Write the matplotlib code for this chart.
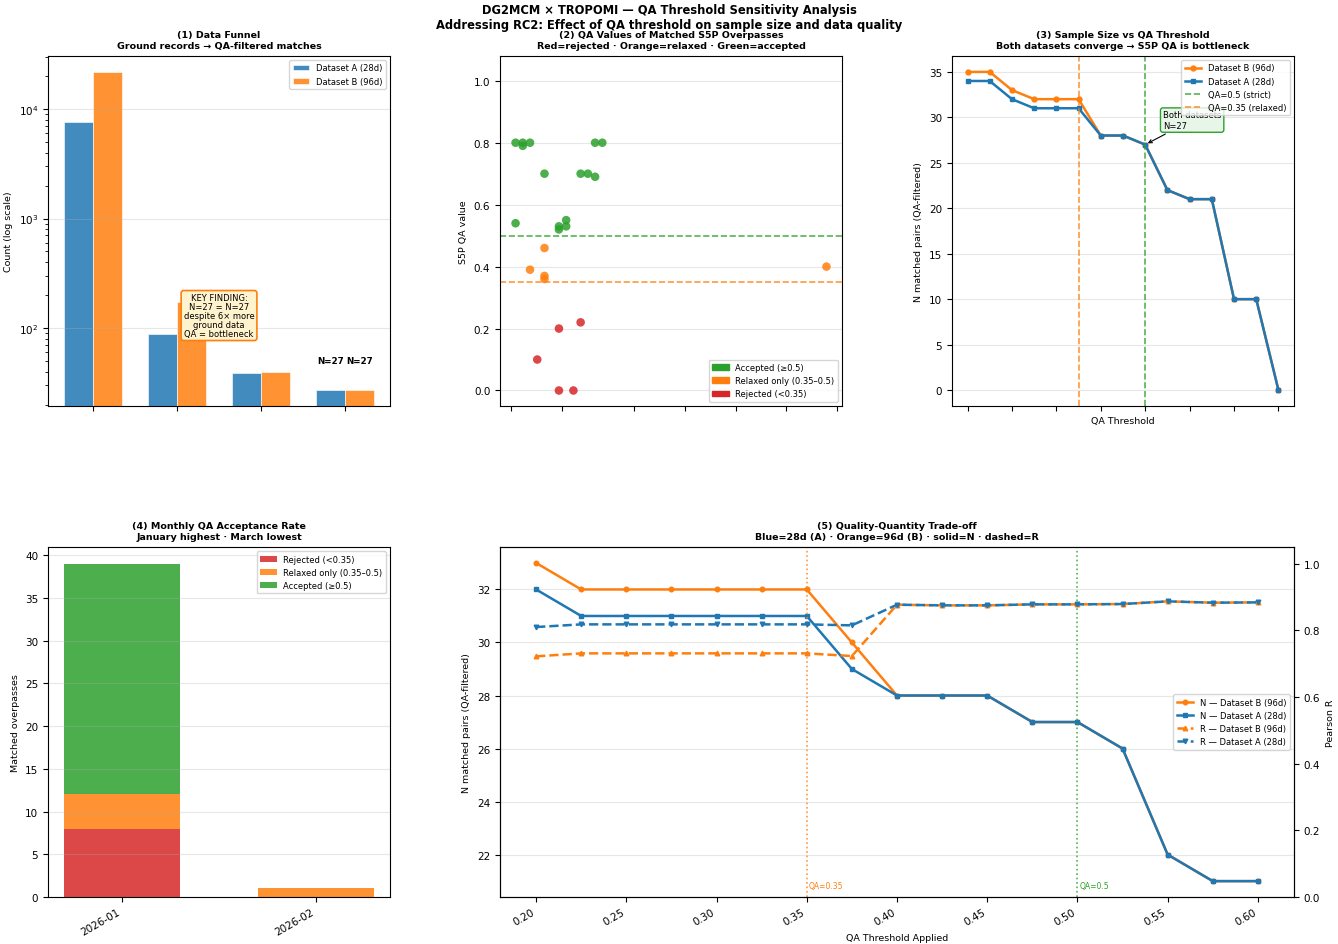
import numpy as np
import matplotlib.pyplot as plt
import matplotlib.dates as mdates
from matplotlib.patches import Patch
from datetime import datetime

C_A = '#1f77b4'
C_B = '#ff7f0e'
C_G = '#2ca02c'
C_R = '#d62728'

# (1) data funnel, counts per stage
funnel_a = [7600, 88, 39, 27]
funnel_b = [21800, 173, 40, 27]

# (2) QA values of matched S5P overpasses
overpass_time = ['2026-01-15 13:30', '2026-01-15 13:30', '2026-01-16 13:30', '2026-01-16 13:30',
                 '2026-01-17 13:30', '2026-01-17 13:30', '2026-01-18 13:30', '2026-01-19 13:30',
                 '2026-01-19 13:30', '2026-01-19 13:30', '2026-01-19 13:30', '2026-01-21 13:30',
                 '2026-01-21 13:30', '2026-01-21 13:30', '2026-01-21 13:30', '2026-01-22 13:30',
                 '2026-01-22 13:30', '2026-01-23 13:30', '2026-01-24 13:30', '2026-01-24 13:30',
                 '2026-01-25 13:30', '2026-01-26 13:30', '2026-01-26 13:30', '2026-01-27 13:30',
                 '2026-02-27 13:30']
overpass_qa = [0.80, 0.54, 0.80, 0.79,
               0.80, 0.39, 0.10, 0.70,
               0.46, 0.37, 0.36, 0.53,
               0.52, 0.20, 0.00, 0.55,
               0.53, 0.00, 0.70, 0.22,
               0.70, 0.80, 0.69, 0.80,
               0.40]

# (3) sample size vs threshold (coarse)
thr_coarse = [0.10, 0.15, 0.20, 0.25, 0.30, 0.35, 0.40, 0.45, 0.50, 0.55, 0.60, 0.65, 0.70, 0.75, 0.80]
n_b_coarse = [35, 35, 33, 32, 32, 32, 28, 28, 27, 22, 21, 21, 10, 10, 0]
n_a_coarse = [34, 34, 32, 31, 31, 31, 28, 28, 27, 22, 21, 21, 10, 10, 0]

# (4) monthly QA categories
months = ['2026-01', '2026-02']
rejected = [8, 0]
relaxed = [4, 1]
accepted = [27, 0]

# (5) quality-quantity trade-off (fine)
thr_fine = [0.200, 0.225, 0.250, 0.275, 0.300, 0.325, 0.350, 0.375, 0.400,
            0.425, 0.450, 0.475, 0.500, 0.525, 0.550, 0.575, 0.600]
n_b_fine = [33, 32, 32, 32, 32, 32, 32, 30, 28, 28, 28, 27, 27, 26, 22, 21, 21]
n_a_fine = [32, 31, 31, 31, 31, 31, 31, 29, 28, 28, 28, 27, 27, 26, 22, 21, 21]
r_b_fine = [0.722, 0.731, 0.731, 0.731, 0.731, 0.731, 0.731, 0.723, 0.877,
            0.875, 0.875, 0.878, 0.878, 0.879, 0.887, 0.883, 0.884]
r_a_fine = [0.810, 0.818, 0.818, 0.818, 0.818, 0.818, 0.818, 0.815, 0.877,
            0.875, 0.875, 0.878, 0.878, 0.879, 0.887, 0.883, 0.884]

TS = 6.8   # title size
LS = 6.8   # axis label size
KS = 7.5   # tick label size
GS = 6     # legend size

fig = plt.figure(figsize=(13.38, 9.45), dpi=100)
gs = fig.add_gridspec(2, 3, left=0.0359, right=0.9671, top=0.9397, bottom=0.0497,
                      wspace=0.3216, hspace=0.403)
ax1 = fig.add_subplot(gs[0, 0])
ax2 = fig.add_subplot(gs[0, 1])
ax3 = fig.add_subplot(gs[0, 2])
ax4 = fig.add_subplot(gs[1, 0])
ax5 = fig.add_subplot(gs[1, 1:])

fig.suptitle('DG2MCM × TROPOMI — QA Threshold Sensitivity Analysis\n'
             'Addressing RC2: Effect of QA threshold on sample size and data quality',
             fontsize=8.3, fontweight='bold', y=0.996)

# ---- (1)
x = np.arange(len(funnel_a))
w = 0.35
ax1.bar(x - w / 2, funnel_a, w, color=C_A, alpha=0.85, edgecolor='white', linewidth=0.5,
        label='Dataset A (28d)')
ax1.bar(x + w / 2, funnel_b, w, color=C_B, alpha=0.85, edgecolor='white', linewidth=0.5,
        label='Dataset B (96d)')
ax1.set_yscale('log')
ax1.set_ylim(19.4, 30500)
ax1.set_xticks(x)
ax1.tick_params(labelbottom=False, labelsize=KS)
ax1.set_ylabel('Count (log scale)', fontsize=LS)
ax1.set_title('(1) Data Funnel\nGround records → QA-filtered matches', fontsize=TS, fontweight='bold')
ax1.grid(axis='y', alpha=0.3)
ax1.legend(loc='upper right', fontsize=GS)
ax1.text(x[-1] - w / 2, funnel_a[-1] * 1.88, 'N=%d' % funnel_a[-1], ha='center', va='center',
         fontsize=6.3, fontweight='bold')
ax1.text(x[-1] + w / 2, funnel_b[-1] * 1.88, 'N=%d' % funnel_b[-1], ha='center', va='center',
         fontsize=6.3, fontweight='bold')
ax1.text(1.5, 130, 'KEY FINDING:\nN=27 = N=27\ndespite 6× more\nground data\nQA = bottleneck',
         ha='center', va='center', fontsize=6, linespacing=1.0,
         bbox=dict(boxstyle='round,pad=0.3', facecolor='#fff3cd', edgecolor=C_B, linewidth=1.2))

# ---- (2)
t = [datetime.strptime(s, '%Y-%m-%d %H:%M') for s in overpass_time]
qa = np.array(overpass_qa)
cols = np.where(qa >= 0.5, C_G, np.where(qa >= 0.35, C_B, C_R))
ax2.scatter(t, qa, c=cols, s=38, alpha=0.85, linewidths=0, zorder=3)
ax2.axhline(0.5, color=C_G, linestyle='--', linewidth=1.2, alpha=0.8)
ax2.axhline(0.35, color=C_B, linestyle='--', linewidth=1.2, alpha=0.8)
ax2.set_ylim(-0.05, 1.08)
ax2.xaxis.set_major_locator(mdates.DayLocator(bymonthday=[1, 8, 15, 22]))
ax2.tick_params(labelbottom=False, labelsize=KS)
ax2.set_ylabel('S5P QA value', fontsize=LS)
ax2.set_title('(2) QA Values of Matched S5P Overpasses\nRed=rejected · Orange=relaxed · Green=accepted',
              fontsize=TS, fontweight='bold')
ax2.grid(axis='y', alpha=0.3)
ax2.legend(handles=[Patch(color=C_G, label='Accepted (≥0.5)'),
                    Patch(color=C_B, label='Relaxed only (0.35–0.5)'),
                    Patch(color=C_R, label='Rejected (<0.35)')],
           loc='lower right', fontsize=GS)

# ---- (3)
ax3.plot(thr_coarse, n_b_coarse, 'o-', color=C_B, linewidth=1.8, markersize=3.5, label='Dataset B (96d)')
ax3.plot(thr_coarse, n_a_coarse, 's-', color=C_A, linewidth=1.8, markersize=3.5, label='Dataset A (28d)')
ax3.axvline(0.5, color=C_G, linestyle='--', linewidth=1.2, alpha=0.8, label='QA=0.5 (strict)')
ax3.axvline(0.35, color=C_B, linestyle='--', linewidth=1.2, alpha=0.8, label='QA=0.35 (relaxed)')
ax3.annotate('Both datasets\nN=27', xy=(0.5, 27), xytext=(0.54, 29.7), ha='left', va='center',
             fontsize=6, arrowprops=dict(arrowstyle='->', color='black', lw=0.8),
             bbox=dict(boxstyle='round,pad=0.3', facecolor='#e8f5e9', edgecolor=C_G, linewidth=1))
ax3.set_xticks(np.arange(0.1, 0.81, 0.1))
ax3.tick_params(labelbottom=False, labelsize=KS)
ax3.set_xlabel('QA Threshold', fontsize=LS)
ax3.set_ylabel('N matched pairs (QA-filtered)', fontsize=LS)
ax3.set_title('(3) Sample Size vs QA Threshold\nBoth datasets converge → S5P QA is bottleneck',
              fontsize=TS, fontweight='bold')
ax3.grid(axis='y', alpha=0.3)
ax3.legend(loc='upper right', fontsize=GS)

# ---- (4)
xm = np.arange(len(months))
ax4.bar(xm, rejected, 0.6, color=C_R, alpha=0.85, label='Rejected (<0.35)')
ax4.bar(xm, relaxed, 0.6, bottom=rejected, color=C_B, alpha=0.85, label='Relaxed only (0.35–0.5)')
ax4.bar(xm, accepted, 0.6, bottom=np.array(rejected) + np.array(relaxed), color=C_G, alpha=0.85,
        label='Accepted (≥0.5)')
ax4.set_xticks(xm)
ax4.set_xticklabels(months, rotation=30, ha='right')
ax4.tick_params(labelsize=KS)
ax4.set_ylabel('Matched overpasses', fontsize=LS)
ax4.set_title('(4) Monthly QA Acceptance Rate\nJanuary highest · March lowest', fontsize=TS,
              fontweight='bold')
ax4.grid(axis='y', alpha=0.3)
ax4.legend(loc='upper right', fontsize=GS)

# ---- (5)
l1, = ax5.plot(thr_fine, n_b_fine, 'o-', color=C_B, linewidth=1.8, markersize=3.3,
               label='N — Dataset B (96d)')
l2, = ax5.plot(thr_fine, n_a_fine, 's-', color=C_A, linewidth=1.8, markersize=3.3,
               label='N — Dataset A (28d)')
ax5.axvline(0.35, color=C_B, linestyle=':', linewidth=1.2, alpha=0.8)
ax5.axvline(0.5, color=C_G, linestyle=':', linewidth=1.2, alpha=0.8)
ax5.text(0.351, 0.02, 'QA=0.35', color=C_B, fontsize=5.5, transform=ax5.get_xaxis_transform(),
         va='bottom')
ax5.text(0.501, 0.02, 'QA=0.5', color=C_G, fontsize=5.5, transform=ax5.get_xaxis_transform(),
         va='bottom')
ax5.set_xticks(np.arange(0.2, 0.61, 0.05))
ax5.set_xticklabels(['%.2f' % v for v in np.arange(0.2, 0.61, 0.05)], rotation=30, ha='right')
ax5.tick_params(labelsize=KS)
ax5.set_xlabel('QA Threshold Applied', fontsize=LS)
ax5.set_ylabel('N matched pairs (QA-filtered)', fontsize=LS)
ax5.grid(axis='y', alpha=0.3)
ax5.set_title('(5) Quality-Quantity Trade-off\nBlue=28d (A) · Orange=96d (B) · solid=N · dashed=R',
              fontsize=TS, fontweight='bold')

ax5b = ax5.twinx()
l3, = ax5b.plot(thr_fine, r_b_fine, '^--', color=C_B, linewidth=1.8, markersize=3.3,
                label='R — Dataset B (96d)')
l4, = ax5b.plot(thr_fine, r_a_fine, 'v--', color=C_A, linewidth=1.8, markersize=3.3,
                label='R — Dataset A (28d)')
ax5b.set_ylim(0, 1.05)
ax5b.tick_params(labelsize=KS)
ax5b.set_ylabel('Pearson R', fontsize=LS)
ax5b.legend(handles=[l1, l2, l3, l4], loc='center right', fontsize=GS)

plt.savefig('out.png', dpi=100)
